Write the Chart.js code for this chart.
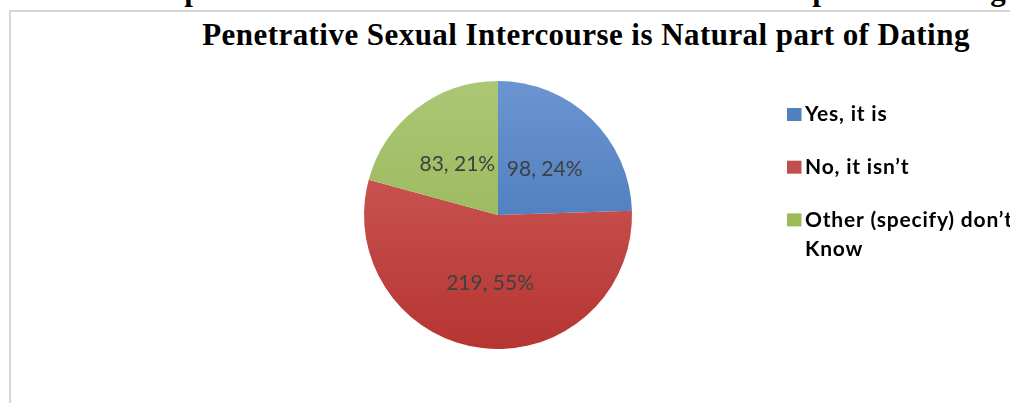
<!DOCTYPE html>
<html>
<head>
<meta charset="utf-8">
<script src="https://cdn.jsdelivr.net/npm/chart.js@4/dist/chart.umd.min.js"></script>
<style>
    html, body { margin: 0; padding: 0; width: 1010px; height: 403px; overflow: hidden; background: #fff; }
    #caption {
        position: absolute; left: 22px; top: -28px; white-space: nowrap; letter-spacing: 0.45px;
        font: bold 31px "Liberation Serif", serif; color: #000;
    }
    #frame {
        position: absolute; left: 9px; top: 10px; width: 1200px; height: 400px;
        border-top: 2px solid #d6d6d6; border-left: 2px solid #d6d6d6; background: #fff;
    }
    #title {
        position: absolute; left: 0; width: 1150px; top: 5px; text-align: center; white-space: nowrap;
        letter-spacing: 0.45px; font: bold 31px "Liberation Serif", serif; color: #000;
    }
    #chart { position: absolute; left: 0; top: 0; }
</style>
</head>
<body>
<div id="caption">Table 2 Graph: Penetrative Sexual Intercourse is Natural part of Dating</div>
<div id="frame">
    <div id="title">Penetrative Sexual Intercourse is Natural part of Dating</div>
    <canvas id="chart" width="1150" height="391"></canvas>
</div>
<script>
/**
 * Categories
 */
const categories = ['Yes, it is', 'No, it isn\u2019t', 'Other (specify) don\u2019t Know'];

/**
 * Legend lines (wrapped like the original)
 */
const legendLines = [['Yes, it is'], ['No, it isn\u2019t'], ['Other (specify) don\u2019t', 'Know']];

/**
 * Counts
 */
const counts = [98, 219, 83];

/**
 * Percent labels
 */
const percents = ['24%', '55%', '21%'];

/**
 * Colours (light, dark, flat)
 */
const lightColors = ['#6b95d0', '#d3625f', '#abc775'];
const darkColors = ['#3a6cb2', '#b53532', '#90b04d'];
const flatColors = ['#4f81bd', '#c0504d', '#9bbb59'];

/**
 * Gradient fill
 */
function sliceFill(context) {
    const chart = context.chart;
    const area = chart.chartArea;
    const i = context.dataIndex;
    if (!area) return flatColors[i];
    const g = chart.ctx.createLinearGradient(0, area.top, 0, area.bottom);
    g.addColorStop(0, lightColors[i]);
    g.addColorStop(1, darkColors[i]);
    return g;
}

/**
 * Labels + legend
 */
const extras = {
    id: 'extras',
    afterDatasetsDraw(chart) {
        const ctx = chart.ctx;
        const meta = chart.getDatasetMeta(0);

        ctx.save();
        ctx.font = '21px Lato';
        ctx.fillStyle = '#404040';
        ctx.textAlign = 'center';
        ctx.textBaseline = 'middle';
        meta.data.forEach(function (arc, i) {
            const p = arc.tooltipPosition();
            ctx.fillText(counts[i] + ', ' + percents[i], p.x, p.y + 2);
        });

        ctx.font = 'bold 21px Lato';
        ctx.letterSpacing = '0.8px';
        ctx.textAlign = 'left';
        const x = 776, y0 = 102.5, step = 52.7, lineH = 29;
        legendLines.forEach(function (lines, i) {
            const y = y0 + i * step;
            ctx.fillStyle = flatColors[i];
            ctx.fillRect(x, y - 6.5, 14.5, 13);
            ctx.fillStyle = '#000';
            lines.forEach(function (t, j) {
                ctx.fillText(t, x + 18, y + j * lineH);
            });
        });
        ctx.restore();
    }
};

/**
 * Chart
 */
new Chart(document.getElementById('chart'), {
    type: 'pie',
    data: {
        labels: categories,
        datasets: [{
            data: counts,
            backgroundColor: sliceFill,
            borderWidth: 0
        }]
    },
    options: {
        responsive: false,
        animation: false,
        layout: { padding: { top: 69, bottom: 54, left: 353, right: 529 } },
        plugins: {
            legend: { display: false },
            tooltip: { enabled: false },
            title: { display: false }
        }
    },
    plugins: [extras]
});
</script>
</body>
</html>
